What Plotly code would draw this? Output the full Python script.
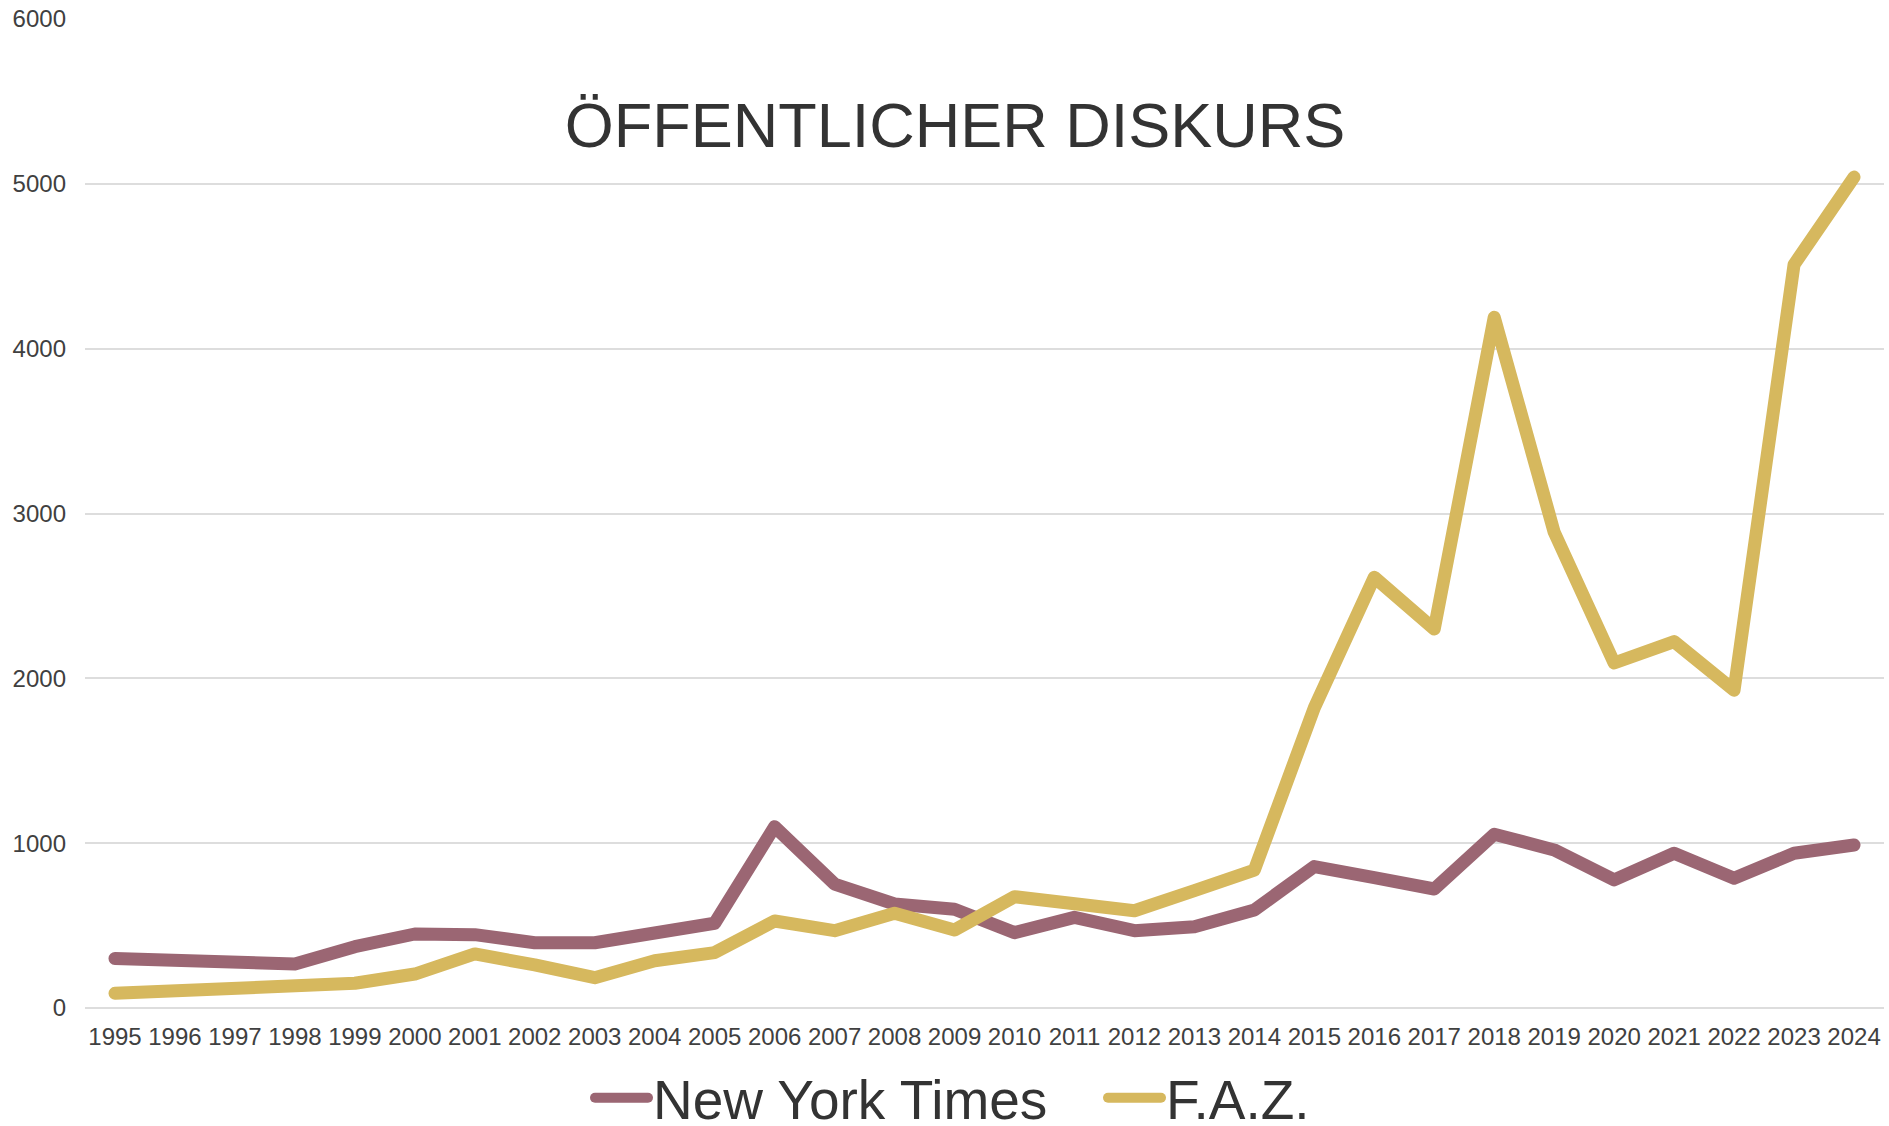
import plotly.graph_objects as go

years = ["1995", "1996", "1997", "1998", "1999", "2000", "2001", "2002", "2003", "2004",
         "2005", "2006", "2007", "2008", "2009", "2010", "2011", "2012", "2013", "2014",
         "2015", "2016", "2017", "2018", "2019", "2020", "2021", "2022", "2023", "2024"]

nyt = [300, 289, 277, 267, 372, 449, 445, 396, 396, 449,
       514, 1100, 752, 631, 599, 457, 550, 469, 493, 595,
       858, 791, 722, 1054, 959, 777, 939, 787, 939, 989]

faz = [89, 105, 117, 129, 150, 206, 328, 261, 184, 287,
       336, 528, 469, 575, 473, 675, 625, 590, 712, 837,
       1822, 2613, 2299, 4190, 2887, 2093, 2223, 1928, 4510, 5041]

y_ticks = [0, 1000, 2000, 3000, 4000, 5000, 6000]

title_text = "ÖFFENTLICHER DISKURS"
series_names = ["New York Times", "F.A.Z."]

NYT_COLOR = "#9B6673"
FAZ_COLOR = "#D6B85E"
TEXT_COLOR = "#333333"
GRID_COLOR = "#DDDDDD"
FONT = "Liberation Sans, Arial, sans-serif"

fig = go.Figure()
fig.add_trace(go.Scatter(x=years, y=nyt, mode="lines", name=series_names[0],
                         line=dict(color=NYT_COLOR, width=13)))
fig.add_trace(go.Scatter(x=years, y=faz, mode="lines", name=series_names[1],
                         line=dict(color=FAZ_COLOR, width=13)))

fig.update_layout(
    width=1889, height=1126,
    margin=dict(l=85, r=5, t=19, b=118),
    paper_bgcolor="white", plot_bgcolor="white",
    font=dict(family=FONT, color=TEXT_COLOR, size=23),
    title=dict(text=title_text, x=(955 - 85) / 1799, xref="paper", xanchor="center",
               y=1 - 125 / 1126, yref="container", yanchor="middle",
               font=dict(size=63, color=TEXT_COLOR, family=FONT)),
    showlegend=True,
    legend=dict(orientation="h", x=(590 - 85) / 1799, xanchor="left", xref="paper",
                y=1 - 1098 / 1126, yref="container", yanchor="middle",
                font=dict(size=55, color=TEXT_COLOR, family=FONT),
                bgcolor="rgba(0,0,0,0)", itemwidth=53,
                entrywidth=445, entrywidthmode="pixels"),
    xaxis=dict(type="category", range=[-0.5, 29.5], showgrid=False, zeroline=False,
               showline=False, ticks="", tickangle=0, tickfont=dict(size=24, color="#404040"),
               ticklabelstandoff=12),
    yaxis=dict(range=[0, 6000], tickvals=y_ticks, showgrid=True, gridcolor=GRID_COLOR,
               gridwidth=2, zeroline=True, zerolinecolor=GRID_COLOR, zerolinewidth=2,
               showline=False, ticks="", tickfont=dict(size=24, color="#404040"),
               ticklabelstandoff=18),
)

post = """
document.body.style.margin='0';
document.querySelectorAll('.scatterlayer path.js-line, .legendlines path').forEach(function(p){
  p.style.strokeLinejoin='round'; p.style.strokeLinecap='round';
});
"""

fig.write_html("out.html", config={"displayModeBar": False}, post_script=post)
